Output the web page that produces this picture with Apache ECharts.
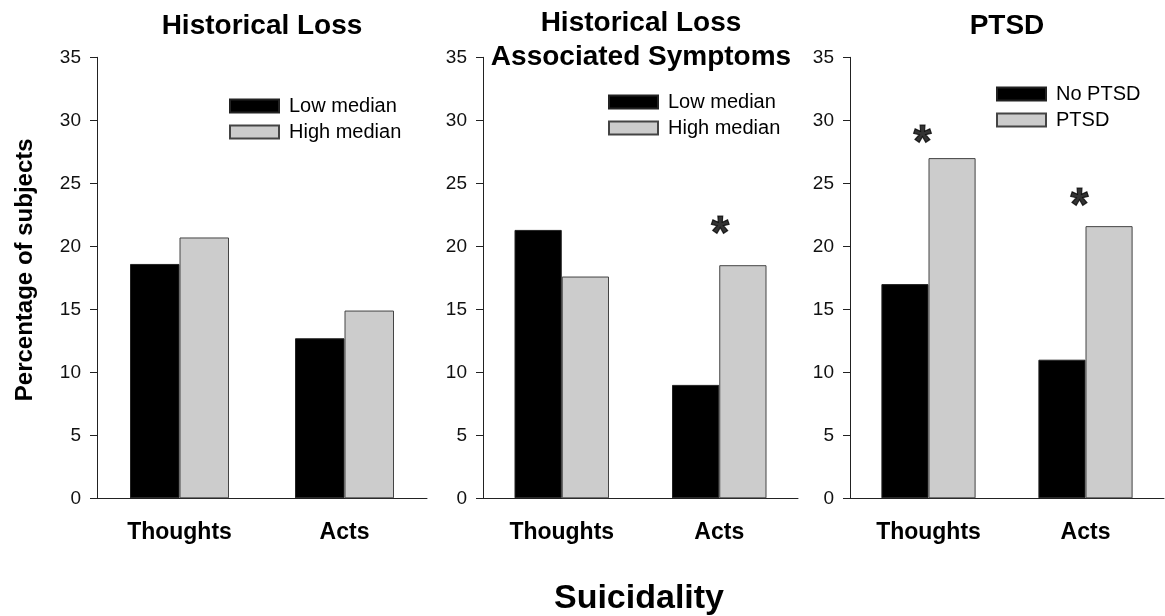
<!DOCTYPE html>
<html>
<head>
<meta charset="utf-8">
<script src="https://cdn.jsdelivr.net/npm/echarts@6/dist/echarts.min.js"></script>
<style>
html,body{margin:0;padding:0;background:#fff;}
#chart{width:1165px;height:616px;}
</style>
</head>
<body>
<div id="chart"></div>
<script>
// ---- data ----
var categories = ['Thoughts', 'Acts'];
var yTicks = [0, 5, 10, 15, 20, 25, 30, 35];

var panelTitles = ['Historical Loss', 'Historical Loss\nAssociated Symptoms', 'PTSD'];

var hlLowMedian  = [18.6, 12.7];
var hlHighMedian = [20.7, 14.9];

var hlasLowMedian  = [21.3, 9.0];
var hlasHighMedian = [17.6, 18.5];

var noPtsd = [17.0, 11.0];
var ptsd   = [27.0, 21.6];

// significance markers: [category, height of marker]
var sigPanel2 = [['Acts', 20.9]];
var sigPanel3 = [['Thoughts', 28.1], ['Acts', 23.1]];

var yAxisTitle = 'Percentage of subjects';
var xAxisTitle = 'Suicidality';

// ---- chart ----
var FONT = '"Liberation Sans", Arial, Helvetica, sans-serif';
var chart = echarts.init(document.getElementById('chart'), null, {renderer: 'canvas'});

var grids = [
  {left: 97, top: 57.3, width: 330, height: 441},
  {left: 483, top: 57.3, width: 315, height: 441},
  {left: 850, top: 57.3, width: 314, height: 441}
];

function xAxisCfg(i) {
  return {
    type: 'category', gridIndex: i, data: categories,
    axisLine: {lineStyle: {color: '#222', width: 1}},
    axisTick: {alignWithLabel: true, length: 6, lineStyle: {color: '#222'}},
    axisLabel: {fontFamily: FONT, fontWeight: 'bold', fontSize: 23, color: '#000', margin: 23}
  };
}
function yAxisCfg(i) {
  var c = {
    type: 'value', gridIndex: i, min: yTicks[0], max: yTicks[yTicks.length - 1],
    interval: yTicks[1] - yTicks[0],
    axisLine: {show: true, lineStyle: {color: '#222', width: 1}},
    axisTick: {show: true, length: 7, lineStyle: {color: '#222'}},
    splitLine: {show: false},
    axisLabel: {fontFamily: FONT, fontSize: 19, color: '#111', margin: 16}
  };
  if (i === 0) {
    c.name = yAxisTitle;
    c.nameLocation = 'middle';
    c.nameGap = 60;
    c.nameTextStyle = {fontFamily: FONT, fontWeight: 'bold', fontSize: 24, color: '#000',
      padding: [0, 0, 0, 16]};
  }
  return c;
}

var darkStyle = {color: '#000000', borderColor: '#222', borderWidth: 1};
var lightStyle = {color: '#cccccc', borderColor: '#444', borderWidth: 1};

function barSeries(name, data, i, style) {
  return {
    name: name, type: 'bar', xAxisIndex: i, yAxisIndex: i, data: data,
    barGap: '0%', barCategoryGap: '40%', itemStyle: style,
    emphasis: {disabled: true}, animation: false
  };
}
function sigSeries(data, i, dx) {
  return {
    type: 'scatter', xAxisIndex: i, yAxisIndex: i, data: data,
    symbolSize: 0, silent: true, animation: false,
    label: {show: true, position: 'inside', formatter: '*', offset: [dx, 0],
      fontFamily: FONT, fontWeight: 'bold', fontSize: 46, color: '#000',
      textBorderColor: '#000', textBorderWidth: 1.2}
  };
}

function legendCfg(left, top, names) {
  return {
    data: names, left: left, top: top, orient: 'vertical', padding: 0,
    icon: 'rect', itemWidth: 49, itemHeight: 13, itemGap: 6,
    selectedMode: false,
    textStyle: {fontFamily: FONT, fontSize: 20, color: '#000', padding: [0, 0, 0, 5]}
  };
}

var titleStyle = {fontFamily: FONT, fontWeight: 'bold', fontSize: 28, color: '#000', lineHeight: 34};

var option = {
  backgroundColor: '#ffffff',
  animation: false,
  title: [
    {text: panelTitles[0], left: 262, top: 9, textAlign: 'center', padding: 0, textStyle: titleStyle},
    {text: panelTitles[1], left: 641, top: 6, textAlign: 'center', padding: 0, textStyle: titleStyle},
    {text: panelTitles[2], left: 1007, top: 9, textAlign: 'center', padding: 0, textStyle: titleStyle},
    {text: xAxisTitle, left: 639, top: 582, textAlign: 'center', padding: 0,
     textStyle: {fontFamily: FONT, fontWeight: 'bold', fontSize: 34, color: '#000'}}
  ],
  legend: [
    legendCfg(229, 96, ['Low median', 'High median']),
    legendCfg(608, 92, ['Low median', 'High median']),
    legendCfg(996, 84, ['No PTSD', 'PTSD'])
  ],
  grid: grids,
  xAxis: [xAxisCfg(0), xAxisCfg(1), xAxisCfg(2)],
  yAxis: [yAxisCfg(0), yAxisCfg(1), yAxisCfg(2)],
  series: [
    barSeries('Low median', hlLowMedian, 0, darkStyle),
    barSeries('High median', hlHighMedian, 0, lightStyle),
    barSeries('Low median', hlasLowMedian, 1, darkStyle),
    barSeries('High median', hlasHighMedian, 1, lightStyle),
    barSeries('No PTSD', noPtsd, 2, darkStyle),
    barSeries('PTSD', ptsd, 2, lightStyle),
    sigSeries(sigPanel2, 1, 1),
    sigSeries(sigPanel3, 2, -6)
  ]
};
chart.setOption(option);
</script>
</body>
</html>
